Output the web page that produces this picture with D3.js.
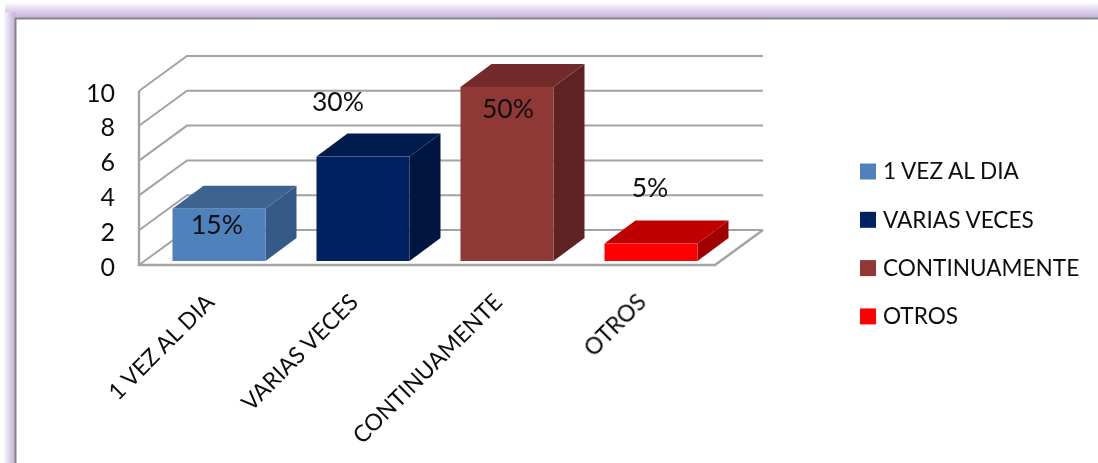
<!DOCTYPE html>
<html>
<head>
<meta charset="utf-8">
<script src="https://cdn.jsdelivr.net/npm/d3@7"></script>
<style>
  html, body { margin: 0; padding: 0; background: #fff; overflow: hidden; }
  text { font-family: Lato, "Open Sans", sans-serif; fill: #111; }
</style>
</head>
<body>
<div id="chart"></div>
<script>
var categories = ["1 VEZ AL DIA", "VARIAS VECES", "CONTINUAMENTE", "OTROS"];
var values = [3, 6, 10, 1];
var percents = ["15%", "30%", "50%", "5%"];
var yTicks = [0, 2, 4, 6, 8, 10];
var frontColors = ["#4f81bd", "#002060", "#8f3735", "#ff0000"];
var topColors = ["#3d6491", "#001b50", "#722c2b", "#c00000"];
var sideColors = ["#355a85", "#001540", "#5f2322", "#a00000"];

var width = 1098, height = 463;

// hand placed data labels, relative to the bar's top centre
var labelNudge = [[-2, 16], [-25, -55], [1, 22], [-1, -56]];

var svg = d3.select("#chart")
    .append("svg")
        .attr("width", width)
        .attr("height", height)
        .attr("viewBox", `0 0 ${width} ${height}`)
        .style("display", "block");

var defs = svg.append("defs");

function fade(id, x1, y1, x2, y2) {
    var g = defs.append("linearGradient").attr("id", id)
        .attr("x1", x1).attr("y1", y1).attr("x2", x2).attr("y2", y2);
    g.append("stop").attr("offset", "0%").attr("stop-color", "#ffffff");
    g.append("stop").attr("offset", "45%").attr("stop-color", "#e4d9ee");
    g.append("stop").attr("offset", "100%").attr("stop-color", "#c6b0dc");
}
fade("fadeLeft", 0, 0, 1, 0);
fade("fadeTop", 0, 0, 0, 1);

defs.append("filter").attr("id", "soft")
    .append("feGaussianBlur").attr("stdDeviation", 0.45);

// purple glow round the frame
svg.append("rect").attr("x", 5).attr("y", 2).attr("width", width).attr("height", 16)
    .attr("fill", "url(#fadeTop)");
svg.append("rect").attr("x", 3).attr("y", 12).attr("width", 12).attr("height", height)
    .attr("fill", "url(#fadeLeft)");
svg.append("path")
    .attr("d", `M15.5,${height} V18.5 H${width}`)
    .attr("fill", "none")
    .attr("stroke", "#858585")
    .attr("stroke-width", 2);

var plot = svg.append("g").attr("filter", "url(#soft)");

// wall depth and bar depth of the fake 3d box
var wallDx = 48, wallDy = -35;
var barDx = 31, barDy = -23;
var floorDx = 8, floorDy = -4;

var x = d3.scaleBand()
    .domain(categories)
    .range([139 + floorDx, 715 + floorDx])
    .paddingInner(0.354)
    .paddingOuter(0.177);

var y = d3.scaleLinear()
    .domain([0, 10])
    .range([265, 91]);

var gridColor = "#a3a3a3";

// walls
plot.append("g")
    .selectAll("path")
    .data(yTicks)
    .enter()
    .append("path")
    .attr("d", function (d) {
        return d3.line()([[139, y(d)], [139 + wallDx, y(d) + wallDy], [763, y(d) + wallDy]]);
    })
    .attr("fill", "none")
    .attr("stroke", gridColor)
    .attr("stroke-width", 2);

plot.append("path")
    .attr("d", d3.line()([[139, y(10)], [139, y(0)], [715, y(0)], [763, y(0) + wallDy]]))
    .attr("fill", "none")
    .attr("stroke", gridColor)
    .attr("stroke-width", 2.4);

// y axis
var yAxis = plot.append("g")
    .attr("transform", "translate(115,2)")
    .call(d3.axisLeft(y).tickValues(yTicks).tickSize(0).tickPadding(0));
yAxis.select(".domain").remove();
yAxis.selectAll("text").style("font-size", "25px").style("fill", "#111");

// bars
var bars = plot.append("g")
    .selectAll("g")
    .data(categories)
    .enter()
    .append("g");

var yb = function (v) { return y(v) + floorDy; };

bars.append("path")
    .attr("fill", (d, i) => sideColors[i])
    .attr("d", function (d, i) {
        var r = x(d) + x.bandwidth();
        return d3.line()([[r, yb(0)], [r + barDx, yb(0) + barDy], [r + barDx, yb(values[i]) + barDy], [r, yb(values[i])]]) + "Z";
    });

bars.append("path")
    .attr("fill", (d, i) => topColors[i])
    .attr("d", function (d, i) {
        var l = x(d), r = l + x.bandwidth(), t = yb(values[i]);
        return d3.line()([[l, t], [l + barDx, t + barDy], [r + barDx, t + barDy], [r, t]]) + "Z";
    });

bars.append("rect")
    .attr("x", d => x(d))
    .attr("y", (d, i) => yb(values[i]))
    .attr("width", x.bandwidth())
    .attr("height", (d, i) => yb(0) - yb(values[i]))
    .attr("fill", (d, i) => frontColors[i]);

// percent labels
plot.append("g")
    .selectAll("text")
    .data(categories)
    .enter()
    .append("text")
    .attr("x", (d, i) => x(d) + x.bandwidth() / 2 + labelNudge[i][0])
    .attr("y", (d, i) => yb(values[i]) + labelNudge[i][1])
    .attr("dy", "0.35em")
    .attr("text-anchor", "middle")
    .style("font-size", "26.5px")
    .text((d, i) => percents[i]);

// rotated category labels
plot.append("g")
    .selectAll("text")
    .data(categories)
    .enter()
    .append("text")
    .attr("transform", d => `translate(${x(d) + x.bandwidth() / 2 - 9},${298}) rotate(-45)`)
    .attr("text-anchor", "end")
    .attr("dy", "0.35em")
    .style("font-size", "23px")
    .text(d => d);

// legend
var legend = plot.append("g")
    .selectAll("g")
    .data(categories)
    .enter()
    .append("g")
    .attr("transform", (d, i) => `translate(860,${171.5 + i * 48.3})`);

legend.append("rect")
    .attr("y", -8)
    .attr("width", 16)
    .attr("height", 16)
    .attr("fill", (d, i) => frontColors[i]);

legend.append("text")
    .attr("x", 23)
    .attr("dy", "0.35em")
    .style("font-size", "22.6px")
    .text(d => d);
</script>
</body>
</html>
